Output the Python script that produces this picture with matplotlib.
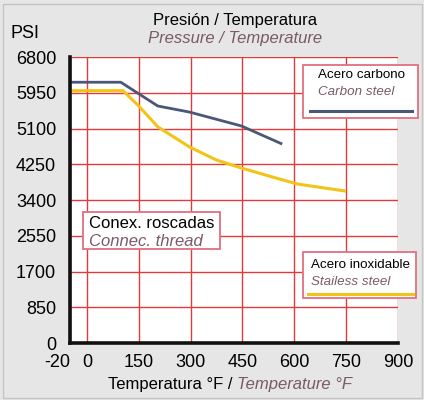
import numpy as np
import matplotlib.pyplot as plt
from matplotlib.patches import Rectangle
from matplotlib.lines import Line2D
from matplotlib.transforms import ScaledTranslation

plt.rcParams['font.family'] = ['Liberation Sans', 'DejaVu Sans']

# Data
carbon_temp = [-20, 98, 205, 297, 447, 565]
carbon_psi = [6200, 6200, 5635, 5490, 5160, 4730]
stainless_temp = [-20, 104, 147, 205, 297, 375, 447, 548, 609, 750]
stainless_psi = [6000, 6000, 5660, 5140, 4660, 4350, 4160, 3920, 3780, 3610]

x_ticks = [-20, 0, 150, 300, 450, 600, 750, 900]
y_ticks = [0, 850, 1700, 2550, 3400, 4250, 5100, 5950, 6800]

BG = '#e6e6e6'
GRID = '#e23a3a'
BOX = '#e07080'
ITAL = '#7a5a68'
BLUE = '#4a5878'
YELLOW = '#f2c418'


# the -20 end of the axis is drawn wider than the rest of the scale
def fwd(x):
    x = np.asarray(x, dtype=float)
    return np.where(x >= 0, x, x * 49 / 20)


def inv(y):
    y = np.asarray(y, dtype=float)
    return np.where(y >= 0, y, y * 20 / 49)


W, H = 424, 400
fig = plt.figure(figsize=(W / 100, H / 100), dpi=100, facecolor=BG)
ax = fig.add_axes([70 / W, 1 - 343 / H, 328 / W, 286 / H])
ax.set_xscale('function', functions=(fwd, inv))
ax.set_xlim(-20, 900)
ax.set_ylim(0, 6800)
ax.set_facecolor('white')

ax.set_xticks(x_ticks)
ax.set_xticklabels([str(t) for t in x_ticks])
ax.set_yticks(y_ticks)
ax.set_yticklabels([str(t) for t in y_ticks])
ax.tick_params(length=0, labelsize=13)
ax.tick_params(axis='y', pad=10)
ax.tick_params(axis='x', pad=8)
ax.minorticks_off()
ax.grid(True, color=GRID, lw=1.0)
ax.set_axisbelow(True)

# shift the "-20" label left so it clears the "0"
lbl = ax.get_xticklabels()[0]
lbl.set_transform(lbl.get_transform() + ScaledTranslation(-13 / 100, 0, fig.dpi_scale_trans))

for s in ['top', 'right']:
    ax.spines[s].set_visible(False)
for s in ['left', 'bottom']:
    ax.spines[s].set_color('#111111')
    ax.spines[s].set_linewidth(2.6)
    ax.spines[s].set_zorder(5)

ax.plot(carbon_temp, carbon_psi, color=BLUE, lw=2.0, solid_capstyle='butt', zorder=3)
ax.plot(stainless_temp, stainless_psi, color=YELLOW, lw=2.2, solid_capstyle='butt', zorder=3)


def fx(px):
    return px / W


def fy(py):
    return 1 - py / H


# titles
fig.text(fx(235), fy(21), 'Presión / Temperatura', ha='center', va='center', fontsize=12)
fig.text(fx(235), fy(39), 'Pressure / Temperature', ha='center', va='center',
         fontsize=12, style='italic', color=ITAL)
fig.text(fx(25), fy(33), 'PSI', ha='center', va='center', fontsize=13)

# x label in two parts
fig.text(fx(233), fy(385), 'Temperatura °F /', ha='right', va='center', fontsize=12)
fig.text(fx(237), fy(385), 'Temperature °F', ha='left', va='center',
         fontsize=12, style='italic', color=ITAL)


def box(x0, y0, x1, y1):
    fig.patches.append(Rectangle((fx(x0), fy(y1)), (x1 - x0) / W, (y1 - y0) / H,
                                 transform=fig.transFigure, facecolor='white',
                                 edgecolor=BOX, lw=1.3, zorder=10))


# legend boxes
box(303, 65, 418, 118)
fig.text(fx(318), fy(75), 'Acero carbono', ha='left', va='center', fontsize=9.6, zorder=11)
fig.text(fx(318), fy(92), 'Carbon steel', ha='left', va='center', fontsize=9.6,
         style='italic', color=ITAL, zorder=11)
fig.lines.append(Line2D([fx(310), fx(412)], [fy(111), fy(111)], transform=fig.transFigure,
                        color=BLUE, lw=2.2, zorder=11))

box(303, 252, 416, 298)
fig.text(fx(311), fy(265), 'Acero inoxidable', ha='left', va='center', fontsize=9.6, zorder=11)
fig.text(fx(311), fy(282), 'Stailess steel', ha='left', va='center', fontsize=9.6,
         style='italic', color=ITAL, zorder=11)
fig.lines.append(Line2D([fx(308), fx(413)], [fy(294), fy(294)], transform=fig.transFigure,
                        color=YELLOW, lw=2.2, zorder=11))

box(83, 212, 220, 249)
fig.text(fx(89), fy(223), 'Conex. roscadas', ha='left', va='center', fontsize=12, zorder=11)
fig.text(fx(89), fy(241), 'Connec. thread', ha='left', va='center', fontsize=12,
         style='italic', color=ITAL, zorder=11)

# thin frame round the whole picture
fig.patches.append(Rectangle((0.006, 0.004), 0.99, 0.985, transform=fig.transFigure,
                             fill=False, edgecolor='#c4c4c4', lw=1.0, zorder=0))

fig.savefig('out.png', dpi=100, facecolor=BG)
